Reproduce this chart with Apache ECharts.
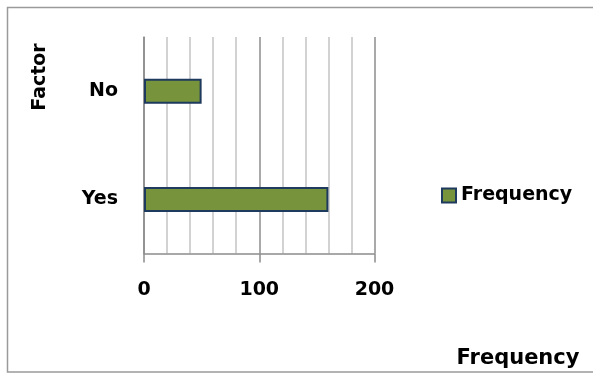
<!DOCTYPE html>
<html>
<head>
<meta charset="utf-8">
<script src="https://cdn.jsdelivr.net/npm/echarts@6/dist/echarts.min.js"></script>
<style>
  html, body { margin: 0; padding: 0; background: #ffffff; }
  #chart { width: 593px; height: 377px; }
</style>
</head>
<body>
<div id="chart"></div>
<script>
// Survey answers and how often each was given
const categories = ['Yes', 'No'];
const frequency = [160, 50];
const xTicks = [0, 100, 200];

const FONT = 'DejaVu Sans';

const chart = echarts.init(document.getElementById('chart'), null, { renderer: 'canvas' });

chart.setOption({
  backgroundColor: '#ffffff',
  animation: false,
  textStyle: { fontFamily: FONT },
  grid: { left: 144, right: 218.5, top: 37, bottom: 123.5, containLabel: false },
  legend: {
    data: ['Frequency'],
    left: 436,
    top: 181,
    orient: 'vertical',
    icon: 'rect',
    itemWidth: 14,
    itemHeight: 14,
    itemGap: 6,
    textStyle: { fontFamily: FONT, fontWeight: 'bold', fontSize: 19, color: '#000' }
  },
  xAxis: {
    type: 'value',
    min: xTicks[0],
    max: xTicks[xTicks.length - 1],
    interval: 100,
    axisLine: { show: true, onZero: false, lineStyle: { color: '#8c8c8c', width: 1.5 } },
    axisTick: { show: true, inside: false, length: 9, lineStyle: { color: '#8c8c8c', width: 1.5 } },
    axisLabel: {
      margin: 27,
      fontFamily: FONT,
      fontWeight: 'bold',
      fontSize: 19,
      color: '#000',
      formatter: v => xTicks.includes(v) ? String(v) : ''
    },
    splitLine: { show: true, lineStyle: { color: '#8c8c8c', width: 1.5 } },
    minorTick: { show: false, splitNumber: 5 },
    minorSplitLine: { show: true, lineStyle: { color: '#c4c4c4', width: 1.5 } }
  },
  yAxis: {
    type: 'category',
    data: categories,
    axisLine: { show: true, lineStyle: { color: '#8c8c8c', width: 1.5 } },
    axisTick: { show: false },
    axisLabel: {
      margin: 26,
      fontFamily: FONT,
      fontWeight: 'bold',
      fontSize: 19,
      color: '#000'
    },
    splitLine: { show: false }
  },
  graphic: [
    {
      type: 'rect',
      silent: true,
      z: -10,
      shape: { x: 7.5, y: 7.5, width: 620, height: 364.5 },
      style: { fill: null, stroke: '#9a9a9a', lineWidth: 1.5 }
    },
    {
      type: 'text',
      x: 40.5,
      y: 77,
      rotation: Math.PI / 2,
      style: {
        text: 'Factor',
        font: 'bold 19px ' + FONT,
        fill: '#000',
        align: 'center',
        verticalAlign: 'middle'
      }
    },
    {
      type: 'text',
      x: 518,
      y: 359,
      style: {
        text: 'Frequency',
        font: 'bold 21px ' + FONT,
        fill: '#000',
        align: 'center',
        verticalAlign: 'middle'
      }
    }
  ],
  series: [
    {
      name: 'Frequency',
      type: 'bar',
      data: frequency,
      barWidth: 25,
      itemStyle: { color: '#77933c', borderColor: '#1f3a5f', borderWidth: 2 }
    }
  ]
});
</script>
</body>
</html>
